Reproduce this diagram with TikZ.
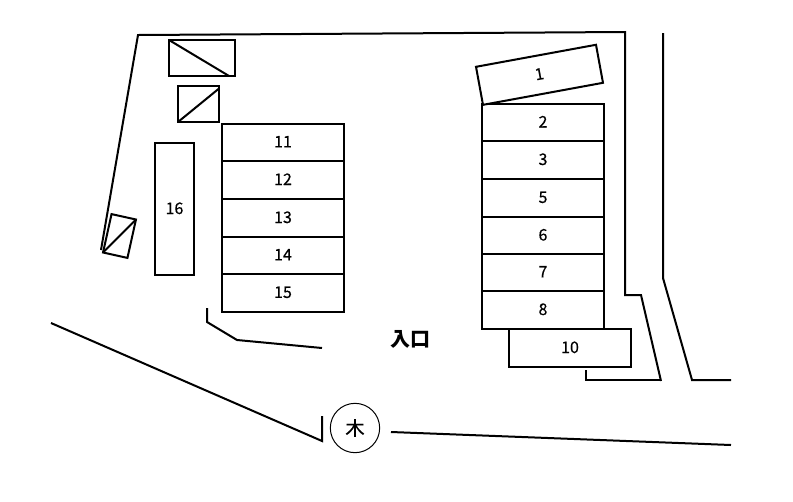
\documentclass[tikz,border=0pt]{standalone}
\usepackage{fontspec}
\setmainfont{Noto Sans CJK JP}
\newfontfamily\semifont[FakeBold=0.4]{Noto Sans CJK JP}
\usetikzlibrary{calc}
\tikzset{
  wall/.style={draw=black,line width=1.5pt,line join=miter},
  thin ring/.style={draw=black,line width=.75pt},
  slot/.style={draw=black,fill=white,line width=1.5pt,inner sep=0pt,outer sep=0pt,text depth=1.2pt,font=\semifont\fontsize{12}{14}\selectfont},
  slotrow/.style={slot,minimum width=91.5pt,minimum height=28.2pt}
}
\begin{document}
\begin{tikzpicture}[x=.75pt,y=-.75pt]
\useasboundingbox (0,0) rectangle (793,501);
% outer boundaries
\coordinate (wa) at (101,250);\coordinate (wb) at (138,35);\coordinate (wc) at (625,32);\coordinate (wd) at (625,295);\coordinate (we) at (641,295);\coordinate (wf) at (661,381);
\draw[wall] (wa)--(wb)--(wc)--(wd)--(we)--(wf);
\coordinate (ra) at (586,370);\coordinate (rb) at (586,380);\coordinate (rc) at (661,380);
\draw[wall] (ra)--(rb)--(rc);
\coordinate (sa) at (663,33);\coordinate (sb) at (663,278);\coordinate (sc) at (692,380);\coordinate (sd) at (731,380);
\draw[wall] (sa)--(sb)--(sc)--(sd);
\coordinate (ca) at (207,308);\coordinate (cb) at (207,322);\coordinate (cc) at (237,340);\coordinate (cd) at (322,348);
\draw[wall] (ca)--(cb)--(cc)--(cd);
\coordinate (da) at (51,323);\coordinate (db) at (322,441);\coordinate (dc) at (322,416);
\draw[wall] (da)--(db)--(dc);
\coordinate (ea) at (391,432);\coordinate (eb) at (731,445);
\draw[wall] (ea)--(eb);
% left column
\node[slotrow] (s11) at (283,142.5) {11};
\node[slotrow] (s12) at (283,180) {12};
\node[slotrow] (s13) at (283,218) {13};
\node[slotrow] (s14) at (283,255.5) {14};
\node[slotrow] (s15) at (283,293) {15};
\node[slot,minimum width=29.25pt,minimum height=99pt] (s16) at (174.5,209) {16};
% right column
\node[slotrow] (s2) at (543,122.5) {2};
\node[slotrow] (s3) at (543,160) {3};
\node[slotrow] (s5) at (543,198) {5};
\node[slotrow] (s6) at (543,235.5) {6};
\node[slotrow] (s7) at (543,272.5) {7};
\node[slotrow] (s8) at (543,310) {8};
\node[slotrow] (s10) at (570,348) {10};
\node[slot,minimum width=91.5pt,minimum height=29pt,rotate=10.4] (s1) at (539.5,74.8) {1};
% sheds
\node[slot,minimum width=49.5pt,minimum height=27pt] (b1) at (202,58) {};
\draw[wall] (b1.north west)--($(b1.south west)!.91!(b1.south east)$);
\node[slot,minimum width=30.75pt,minimum height=27pt] (b2) at (198.5,104) {};
\draw[wall] (b2.south west)--($(b2.south east)!.93!(b2.north east)$);
\node[slot,minimum width=18.75pt,minimum height=29.5pt,rotate=-12.5] (b3) at (119.5,236) {};
\draw[wall] (b3.south west)--(b3.north east);
% tree and entrance
\node[thin ring,circle,minimum size=37pt,inner sep=0pt,outer sep=0pt,font=\semifont\fontsize{14.5}{16}\selectfont] (tree) at (355,428) {木};
\node[inner sep=0pt,font=\fontsize{15}{17}\selectfont\bfseries] (ent) at (410,339) {入口};
\end{tikzpicture}
\end{document}
